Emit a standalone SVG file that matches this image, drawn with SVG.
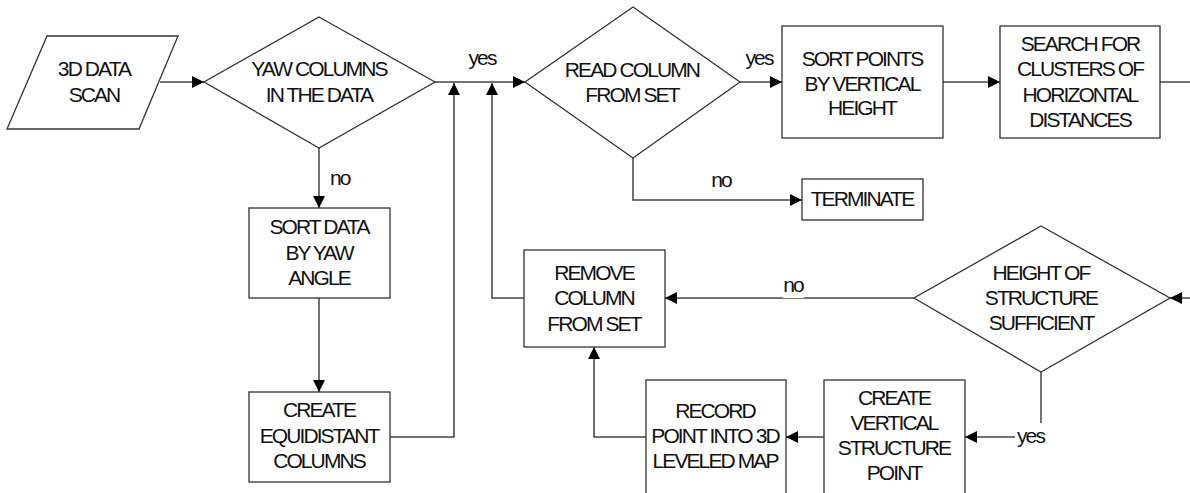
<svg xmlns="http://www.w3.org/2000/svg" width="1190" height="493" viewBox="0 0 1190 493">
<style>
.shape{fill:#fff;stroke:#333;stroke-width:1.3}
.con{fill:none;stroke:#444;stroke-width:1.5}
text{font-family:"Liberation Sans",Arial,sans-serif;font-size:21px;letter-spacing:-1.9px;fill:#111}
.c{text-anchor:middle}
</style>
<defs>
<marker id="ah" markerUnits="userSpaceOnUse" markerWidth="12" markerHeight="12" refX="12" refY="6" orient="auto">
<path d="M0,0 L12,6 L0,12 z" fill="#000"/>
</marker>
</defs>
<rect width="1190" height="493" fill="#fff"/>
<g id="connectors">
<path class="con" d="M160,82 H204" marker-end="url(#ah)"/>
<path class="con" d="M435,82 H525" marker-end="url(#ah)"/>
<path class="con" d="M390,437 H454 V83" marker-end="url(#ah)"/>
<path class="con" d="M524,298 H492 V83" marker-end="url(#ah)"/>
<path class="con" d="M319,148 V208" marker-end="url(#ah)"/>
<path class="con" d="M319,298 V392" marker-end="url(#ah)"/>
<path class="con" d="M740,82 H782" marker-end="url(#ah)"/>
<path class="con" d="M943,82 H1000" marker-end="url(#ah)"/>
<path class="con" d="M1160,82 H1190"/>
<path class="con" d="M633,158 V200 H802" marker-end="url(#ah)"/>
<path class="con" d="M1190,298 H1170" marker-end="url(#ah)"/>
<path class="con" d="M914,298 H665" marker-end="url(#ah)"/>
<path class="con" d="M1041,372 V423"/>
<path class="con" d="M1015,437 H965" marker-end="url(#ah)"/>
<path class="con" d="M824,437 H786" marker-end="url(#ah)"/>
<path class="con" d="M646,437 H594 V347" marker-end="url(#ah)"/>
<rect x="783" y="277" width="21" height="21" fill="#fff"/>
<text x="330" y="185">no</text>
<text class="c" x="482" y="65">yes</text>
<text class="c" x="759" y="65">yes</text>
<text class="c" x="721" y="187">no</text>
<text class="c" x="793" y="292">no</text>
<text x="1017" y="443">yes</text>
</g>
<g id="scan">
<polygon class="shape" points="47,36 178,36 139,129 7,129"/>
<text class="c" x="94" y="76">3D DATA</text>
<text class="c" x="94" y="102">SCAN</text>
</g>
<g id="yaw">
<polygon class="shape" points="319,17 435,82 319,148 204,82"/>
<text class="c" x="319" y="76">YAW COLUMNS</text>
<text class="c" x="319" y="102">IN THE DATA</text>
</g>
<g id="read">
<polygon class="shape" points="633,7 740,82 633,158 525,82"/>
<text class="c" x="632" y="77">READ COLUMN</text>
<text class="c" x="632" y="102">FROM SET</text>
</g>
<g id="sortpoints">
<rect class="shape" x="782" y="26" width="161" height="112"/>
<text class="c" x="862" y="66">SORT POINTS</text>
<text class="c" x="862" y="91">BY VERTICAL</text>
<text class="c" x="862" y="115">HEIGHT</text>
</g>
<g id="search">
<rect class="shape" x="1000" y="26" width="160" height="112"/>
<text class="c" x="1080" y="51">SEARCH FOR</text>
<text class="c" x="1080" y="76">CLUSTERS OF</text>
<text class="c" x="1080" y="102">HORIZONTAL</text>
<text class="c" x="1080" y="127">DISTANCES</text>
</g>
<g id="terminate">
<rect class="shape" x="802" y="179" width="121" height="41"/>
<text class="c" x="862" y="206">TERMINATE</text>
</g>
<g id="sortdata">
<rect class="shape" x="249" y="208" width="141" height="90"/>
<text class="c" x="319" y="234">SORT DATA</text>
<text class="c" x="319" y="260">BY YAW</text>
<text class="c" x="319" y="285">ANGLE</text>
</g>
<g id="equidistant">
<rect class="shape" x="249" y="392" width="141" height="90"/>
<text class="c" x="319" y="417">CREATE</text>
<text class="c" x="319" y="443">EQUIDISTANT</text>
<text class="c" x="319" y="468">COLUMNS</text>
</g>
<g id="remove">
<rect class="shape" x="524" y="250" width="141" height="97"/>
<text class="c" x="594" y="280">REMOVE</text>
<text class="c" x="594" y="305">COLUMN</text>
<text class="c" x="594" y="331">FROM SET</text>
</g>
<g id="height">
<polygon class="shape" points="1041,226 1170,298 1041,372 914,298"/>
<text class="c" x="1041" y="280">HEIGHT OF</text>
<text class="c" x="1041" y="305">STRUCTURE</text>
<text class="c" x="1041" y="330">SUFFICIENT</text>
</g>
<g id="record">
<rect class="shape" x="646" y="380" width="140" height="130"/>
<text class="c" x="715" y="418">RECORD</text>
<text class="c" x="715" y="443">POINT INTO 3D</text>
<text class="c" x="715" y="468">LEVELED MAP</text>
</g>
<g id="vertical">
<rect class="shape" x="824" y="380" width="141" height="130"/>
<text class="c" x="894" y="405">CREATE</text>
<text class="c" x="894" y="430">VERTICAL</text>
<text class="c" x="894" y="455">STRUCTURE</text>
<text class="c" x="894" y="480">POINT</text>
</g>
</svg>
